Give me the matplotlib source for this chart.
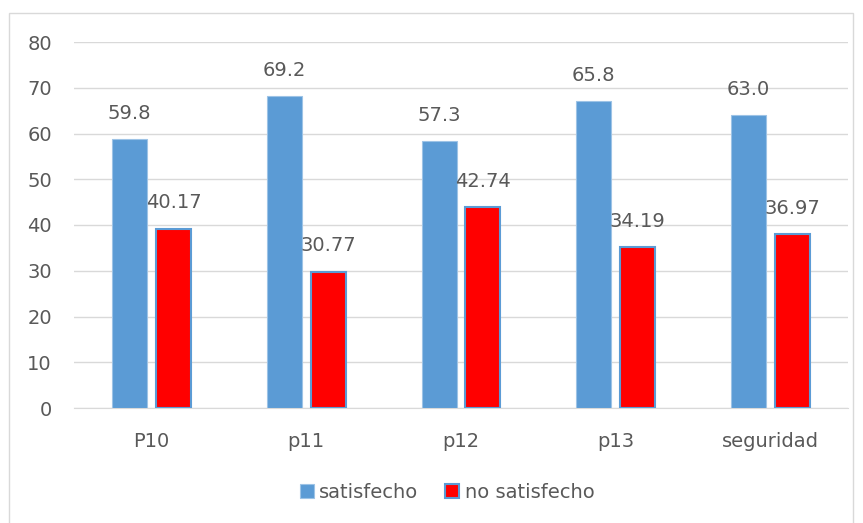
import matplotlib.pyplot as plt
import matplotlib.patches as patches
import numpy as np

categories = ['P10', 'p11', 'p12', 'p13', 'seguridad']
# bar heights as drawn in the chart
satisfecho = [58.7, 68.2, 58.4, 67.0, 64.0]
no_satisfecho = [39.2, 29.8, 43.9, 35.2, 38.0]
# data labels as printed above the bars
satisfecho_lbl = ['59.8', '69.2', '57.3', '65.8', '63.0']
no_satisfecho_lbl = ['40.17', '30.77', '42.74', '34.19', '36.97']

txt = '#595959'
grid = '#D9D9D9'
fs = 14

plt.rcParams['font.family'] = ['DejaVu Sans']

fig = plt.figure(figsize=(8.63, 5.23), dpi=100)
# outer chart border (bottom edge runs off the image)
fig.patches.append(patches.Rectangle((9 / 863, -10 / 523), 844 / 863, 520 / 523,
                                     transform=fig.transFigure, fill=False,
                                     edgecolor=grid, linewidth=1))
ax = fig.add_axes([74 / 863, 115 / 523, 774 / 863, 366 / 523])

x = np.arange(len(categories))
off = 0.142
w = 0.226
b1 = ax.bar(x - off, satisfecho, w, color='#5B9BD5', edgecolor='#9DC3E6',
            linewidth=0.8, label='satisfecho', zorder=3)
b2 = ax.bar(x + off, no_satisfecho, w, color='#FF0000', edgecolor='#5B9BD5',
            linewidth=1.5, label='no satisfecho', zorder=3)

for bars, lbls in [(b1, satisfecho_lbl), (b2, no_satisfecho_lbl)]:
    for r, s in zip(bars, lbls):
        ax.annotate(s, (r.get_x() + r.get_width() / 2, r.get_height()),
                    xytext=(0, 18.5), textcoords='offset points',
                    ha='center', va='center', fontsize=fs, color=txt)

ax.set_xlim(-0.5, len(categories) - 0.5)
ax.set_ylim(0, 80)
ax.set_yticks(range(0, 81, 10))
ax.set_xticks(x)
ax.set_xticklabels(categories)
ax.tick_params(axis='both', length=0, labelsize=fs, labelcolor=txt)
ax.tick_params(axis='y', pad=16)
ax.tick_params(axis='x', pad=17)
ax.grid(axis='y', color=grid, linewidth=1, zorder=0)
for side in ['top', 'right', 'left']:
    ax.spines[side].set_visible(False)
ax.spines['bottom'].set_color(grid)

fig.legend(handles=[b1, b2], loc='center', bbox_to_anchor=(447 / 863, 31 / 523),
           ncol=2, frameon=False, fontsize=fs, labelcolor=txt,
           handlelength=0.72, handleheight=0.72, handletextpad=0.3,
           columnspacing=1.35)

fig.savefig('out.png', dpi=100)
